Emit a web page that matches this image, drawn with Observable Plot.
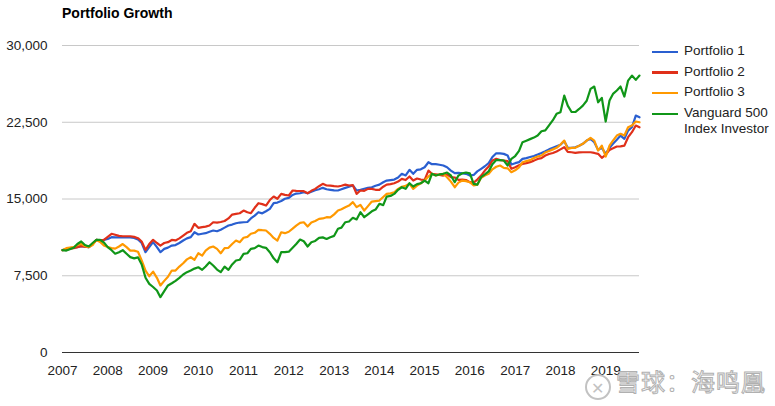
<!DOCTYPE html>
<html>
<head>
<meta charset="utf-8">
<script src="https://cdn.jsdelivr.net/npm/d3@7"></script>
<script src="https://cdn.jsdelivr.net/npm/@observablehq/plot@0.6"></script>
<style>
  html, body { margin: 0; padding: 0; background: #fff; }
  #wrap { position: relative; width: 775px; height: 406px; font-family: "Liberation Sans", Arial, sans-serif; overflow: hidden; }
  #title { position: absolute; left: 62px; top: 5px; font-size: 14px; font-weight: bold; color: #000; }
  #chart { position: absolute; left: 0; top: 30px; }
  #legend { position: absolute; left: 652px; top: 43px; font-size: 13.5px; color: #222; }
  .item { position: relative; padding-left: 32px; width: 92px; line-height: 15.5px; margin-bottom: 5.2px; }
  .sw { position: absolute; left: 0; top: 7.5px; width: 26px; height: 2.5px; }
  #wm { position: absolute; left: 585px; top: 363px; font-family: "Noto Sans CJK SC", sans-serif; font-size: 24px; color: rgba(255,255,255,0.85); -webkit-text-stroke: 1px #b0b0b0; letter-spacing: 1px; white-space: nowrap; }
  #wm .ic { display: inline-block; width: 22px; height: 22px; border: 2px solid #c2c2c2; border-radius: 50%; vertical-align: -3px; margin-right: 5px; font-size: 16px; line-height: 22px; text-align: center; color: #c2c2c2; -webkit-text-stroke: 0; }
</style>
</head>
<body>
<div id="wrap">
  <div id="title"></div>
  <div id="chart"></div>
  <div id="legend"></div>
  <div id="wm"><span class="ic">✕</span>雪球：海鸣凰</div>
</div>
<script>
const titleText = "Portfolio Growth";
const seriesNames = ["Portfolio 1", "Portfolio 2", "Portfolio 3", "Vanguard 500 Index Investor"];
const seriesColors = ["#2a5fd0", "#e0301a", "#ff9900", "#109618"];
const yTicks = [0, 7500, 15000, 22500, 30000];
const yearTicks = [2007, 2008, 2009, 2010, 2011, 2012, 2013, 2014, 2015, 2016, 2017, 2018, 2019];
const startMonth = "2007-01";
const endMonth = "2019-10";

// monthly values, Jan 2007 .. Oct 2019
const portfolio1 = [
  10000, 10100, 10200, 10250, 10300, 10400, 10350, 10300, 10600, 11000, 10950, 11010,
  11100, 11270, 11250, 11250, 11250, 11250, 11250, 11200, 11040, 10700, 9800, 10300,
  10780, 10300, 9800, 10130, 10250, 10450, 10500, 10700, 10940, 11150, 11270, 11750,
  11530, 11600, 11660, 11800, 11920, 11850, 12000, 12200, 12410, 12500, 12630, 12700,
  12730, 12750, 13100, 13380, 13710, 13600, 13800, 14040, 14590, 14650, 14800, 15020,
  15110, 15400, 15530, 15560, 15660, 15560, 15700, 15850, 15950, 16090, 15950, 15900,
  15850, 15830, 15950, 16090, 16200, 16320, 15830, 15900, 16000, 16100, 16150, 16300,
  16400, 16640, 16800, 16850, 16900, 17100, 17460, 17300, 17850, 17460, 17850, 17900,
  18100, 18590, 18400, 18400, 18350, 18270, 18100, 17780, 17520, 17550, 17500, 17460,
  17290, 17350, 17700, 17950, 18200, 18500, 19100, 19470, 19450, 19410, 19250, 18370,
  18500, 18600, 18920, 19000, 19100, 19200, 19340, 19500, 19670, 19850, 20000, 20150,
  20300, 20650, 20000, 20000, 20050, 20200, 20390, 20710, 20880, 20550, 19800, 20000,
  19410, 20000, 20400, 20800, 21200, 20880, 21690, 22010, 23150, 22990
];
const portfolio2 = [
  10000, 10050, 10150, 10200, 10300, 10400, 10350, 10300, 10600, 11000, 10950, 11010,
  11300, 11600, 11500, 11400, 11360, 11360, 11360, 11300, 11170, 10850, 10030, 10600,
  11010, 10700, 10450, 10700, 10780, 11000, 10950, 11150, 11430, 11700, 11850, 12570,
  12180, 12250, 12300, 12410, 12730, 12700, 12750, 12850, 13100, 13480, 13550, 13610,
  13870, 13700, 13610, 14140, 14590, 14500, 14360, 14900, 15240, 15020, 15500, 15400,
  15340, 15830, 15800, 15780, 15760, 15560, 15800, 15990, 16250, 16480, 16320, 16300,
  16250, 16220, 16300, 16410, 16320, 16350, 15500, 15830, 15800, 15990, 15990, 15900,
  15900, 16200, 16410, 16450, 16540, 16700, 16970, 16850, 17200, 16800, 17000, 16900,
  16870, 17780, 17460, 17400, 17350, 17290, 17400, 17130, 17100, 16870, 16900, 16850,
  16640, 16600, 16900, 17290, 17780, 18170, 18760, 18920, 18800, 18760, 18700, 17950,
  18100, 18300, 18430, 18500, 18600, 18750, 18920, 19000, 19250, 19400, 19500, 19650,
  19850, 20060, 19600, 19570, 19500, 19550, 19570, 19570, 19570, 19500, 19410, 19020,
  19310, 19800, 19950, 20130, 20150, 20220, 21040, 21530, 22180, 22010
];
const portfolio3 = [
  10000, 10200, 10250, 10300, 10500, 10600, 10400, 10300, 10500, 11000, 10800, 10450,
  10300, 10200, 10150, 10360, 10600, 10300, 9960, 9960, 9850, 9000, 8000, 7450,
  7900, 7300, 6550, 7000, 7400, 8010, 8010, 8400, 8720, 9100, 9310, 9060,
  9700, 9470, 9960, 10250, 10360, 10130, 9700, 10200, 10230, 10600, 10940, 10780,
  11210, 11300, 11600, 11700, 11990, 11950, 11920, 11600, 11200, 10940, 11750, 11660,
  11800, 12100, 12400, 12670, 12730, 12310, 12700, 12850, 13060, 13100, 13220, 13200,
  13500, 13870, 14000, 14200, 14360, 14690, 14200, 14430, 13870, 14300, 14750, 14800,
  14850, 15200, 15500, 15550, 15660, 15990, 16200, 16300, 16480, 15990, 16300, 16540,
  16800, 17200, 17460, 17300, 17400, 17460, 17130, 16700, 16150, 16600, 16800, 16750,
  16640, 16320, 16400, 17070, 17300, 17460, 17900, 18150, 18270, 18040, 18000, 17620,
  17800, 18100, 18590, 18700, 18800, 19000, 19150, 19250, 19550, 19700, 19850, 20000,
  20320, 20710, 19900, 20000, 20000, 20200, 20390, 20700, 20980, 20710, 19730, 20220,
  19150, 20220, 20710, 21200, 21370, 21200, 22010, 22180, 22570, 22500
];
const vanguard500 = [
  10000, 9960, 10100, 10230, 10600, 10850, 10500, 10360, 10700, 11010, 11000, 10750,
  10300, 10000, 9650, 9800, 10000, 9650, 9320, 9200, 9300, 8600, 7300, 6700,
  6400, 6060, 5410, 6000, 6550, 6770, 7000, 7300, 7620, 7850, 8010, 8200,
  8330, 8080, 8400, 8820, 8500, 8100, 7850, 8400, 8080, 8600, 8990, 9060,
  9640, 9700, 10130, 10200, 10450, 10300, 10230, 9800, 9200, 8820, 9800, 9800,
  9850, 10230, 10600, 11040, 10870, 10360, 10780, 10900, 11210, 11250, 11100, 11270,
  11400, 12090, 12200, 12730, 12800, 13160, 13000, 13710, 13220, 13500, 13800, 13970,
  14530, 14400, 15240, 15300, 15500, 15900, 16150, 16000, 16540, 16220, 16450, 16540,
  16800, 16540, 17460, 17300, 17400, 17460, 17590, 17300, 16640, 17290, 17520, 17590,
  17500, 16480, 16400, 17130, 17400, 17700, 18400, 18800, 18800, 18760, 18270, 18920,
  19200, 19700, 20550, 20700, 20850, 21000, 21200, 21620, 21700, 22200, 22700, 23320,
  23480, 25110, 24130, 23500, 23500, 23800, 24130, 24600, 25760, 25990, 24450, 24880,
  22570, 24620, 25270, 25600, 25990, 25010, 26570, 27060, 26640, 27060
];

const seriesValues = [portfolio1, portfolio2, portfolio3, vanguard500];
const parseMonth = d3.utcParse("%Y-%m");
const months = d3.utcMonth.range(parseMonth(startMonth), d3.utcMonth.offset(parseMonth(endMonth), 1));

const rows = [];
seriesNames.forEach((name, s) => {
  seriesValues[s].forEach((v, i) => rows.push({date: months[i], value: v, series: name}));
});

document.getElementById("title").textContent = titleText;

const font = "Liberation Sans, Arial, sans-serif";
const chart = Plot.plot({
  width: 775,
  height: 376,
  marginLeft: 62,
  marginRight: 136,
  marginTop: 15,
  marginBottom: 54,
  style: {fontFamily: font, fontSize: "13.5px", color: "#222", background: "#fff"},
  x: {type: "utc", domain: [parseMonth(startMonth), parseMonth(endMonth)]},
  y: {domain: [0, 30000]},
  color: {domain: seriesNames, range: seriesColors},
  marks: [
    Plot.gridY(yTicks.filter(d => d > 0), {stroke: "#c8c8c8", strokeOpacity: 1, strokeWidth: 1}),
    Plot.axisY(yTicks, {tickSize: 0, tickPadding: 15, tickFormat: d3.format(","), label: null, fontSize: 13.5, fill: "#222"}),
    Plot.axisX(yearTicks.map(y => new Date(Date.UTC(y, 0, 1))), {tickSize: 0, tickPadding: 13, tickFormat: d3.utcFormat("%Y"), label: null, fontSize: 13.5, fill: "#222"}),
    Plot.line(rows, {x: "date", y: "value", z: "series", stroke: "series", strokeWidth: 2.2, strokeLinejoin: "round"}),
    Plot.ruleY([0], {stroke: "#333", strokeWidth: 1})
  ]
});
document.getElementById("chart").appendChild(chart);

const legend = document.getElementById("legend");
seriesNames.forEach((name, i) => {
  const item = document.createElement("div");
  item.className = "item";
  const sw = document.createElement("div");
  sw.className = "sw";
  sw.style.background = seriesColors[i];
  item.appendChild(sw);
  item.appendChild(document.createTextNode(name));
  legend.appendChild(item);
});
</script>
</body>
</html>
